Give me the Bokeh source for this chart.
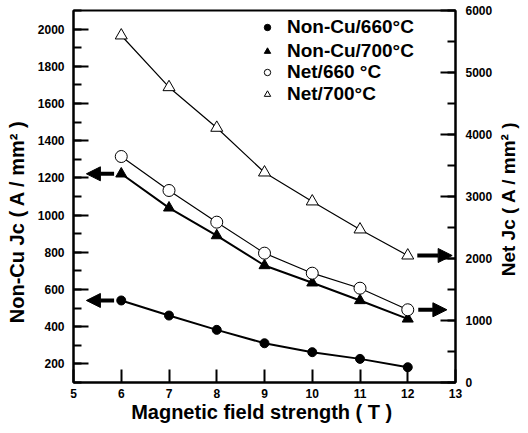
import math
from bokeh.plotting import figure
from bokeh.layouts import row
from bokeh.models import (Range1d, LinearAxis, SingleIntervalTicker, Legend, LegendItem,
                          Arrow, NormalHead, Label)
from bokeh.embed import file_html
from bokeh.resources import INLINE

# ---- data ----
field_T = [6, 7, 8, 9, 10, 11, 12]
noncu_660 = [541, 460, 383, 311, 263, 227, 182]
noncu_700 = [1222, 1039, 890, 729, 636, 541, 442]
net_660 = [3645, 3097, 2586, 2086, 1763, 1521, 1173]
net_700 = [5597, 4763, 4108, 3387, 2920, 2468, 2048]
labels = ["Non-Cu/660°C", "Non-Cu/700°C", "Net/660 °C", "Net/700°C"]
x_title = "Magnetic field  strength ( T )"
y_title = "Non-Cu Jc ( A / mm² )"
y2_title = "Net Jc ( A / mm² )"

FONT = "Liberation Sans"
NBSP = "\u00a0"

p = figure(width=496, height=425, output_backend="svg", toolbar_location=None,
           x_range=Range1d(5, 13), y_range=Range1d(100, 2100),
           min_border_left=73, min_border_right=41, min_border_top=10, min_border_bottom=43)
p.extra_y_ranges = {"right": Range1d(0, 6000)}
p.xgrid.visible = False
p.ygrid.visible = False
p.outline_line_color = "black"
p.outline_line_width = 2
p.background_fill_color = "white"
p.border_fill_color = "white"

# axes
xa = p.xaxis[0]
xa.ticker = SingleIntervalTicker(interval=1, num_minor_ticks=0)
xa.axis_label = x_title
ya = p.yaxis[0]
ya.ticker = SingleIntervalTicker(interval=200, num_minor_ticks=2)
ya.axis_label = y_title + NBSP * 9
ra = LinearAxis(y_range_name="right",
                ticker=SingleIntervalTicker(interval=1000, num_minor_ticks=2))
p.add_layout(ra, "right")

for ax in (xa, ya, ra):
    ax.axis_line_width = 2
    ax.axis_line_color = "black"
    ax.major_tick_line_width = 2
    ax.minor_tick_line_width = 2
    ax.major_tick_out = 0
    ax.minor_tick_out = 0
    ax.major_tick_in = 15
    ax.minor_tick_in = 8
    ax.major_label_text_font = FONT
    ax.major_label_text_font_style = "bold"
    ax.major_label_text_font_size = "12px"
    ax.major_label_text_color = "black"
    ax.axis_label_text_font = FONT
    ax.axis_label_text_font_style = "bold"
    ax.axis_label_text_font_size = "20px"
    ax.axis_label_text_color = "black"
xa.major_tick_in = 13
xa.major_label_standoff = 6
xa.axis_label_standoff = 0
ya.major_label_standoff = 9
ya.axis_label_standoff = 7
ra.major_label_standoff = 10

# series
p.line(field_T, noncu_660, line_color="black", line_width=2)
m1 = p.scatter(field_T, noncu_660, marker="circle", size=9, fill_color="black", line_color="black")
p.line(field_T, noncu_700, line_color="black", line_width=2)
m2 = p.scatter(field_T, noncu_700, marker="triangle", size=11, fill_color="black", line_color="black")
p.line(field_T, net_660, line_color="black", line_width=1.2, y_range_name="right")
m3 = p.scatter(field_T, net_660, marker="circle", size=12, fill_color="white", line_color="black",
               line_width=1, y_range_name="right")
p.line(field_T, net_700, line_color="black", line_width=1.2, y_range_name="right")
m4 = p.scatter(field_T, net_700, marker="triangle", size=12, fill_color="white", line_color="black",
               line_width=1, y_range_name="right")

# arrows indicating which axis each pair uses
def arrow(x0, x1, y, rng="default"):
    a = Arrow(end=NormalHead(size=14, fill_color="black", line_color="black"),
              x_start=x0, x_end=x1, y_start=y, y_end=y, line_width=4, line_color="black",
              y_range_name=rng)
    p.add_layout(a)

arrow(5.85, 5.27, noncu_700[0])
arrow(5.85, 5.27, noncu_660[0])
arrow(12.2, 12.93, net_700[-1], "right")
arrow(12.22, 12.82, net_660[-1], "right")

# legends
def make_legend(items, y, rowh, spacing):
    lg = Legend(items=items, location=(186, y), orientation="vertical",
                glyph_width=16, glyph_height=rowh, label_height=rowh, label_standoff=12,
                spacing=spacing, padding=0, margin=0,
                border_line_alpha=0, background_fill_alpha=0,
                label_text_font=FONT, label_text_font_style="bold",
                label_text_font_size="19px", label_text_color="black")
    p.add_layout(lg, "center")

make_legend([LegendItem(label=labels[0], renderers=[m1]),
             LegendItem(label=labels[1], renderers=[m2])], 320, 18, 2)
make_legend([LegendItem(label=labels[2], renderers=[m3]),
             LegendItem(label=labels[3], renderers=[m4])], 277, 16, 0)

# narrow strip on the right carrying the right-axis title (reads bottom to top)
p2 = figure(width=24, height=425, output_backend="svg", toolbar_location=None,
            x_range=Range1d(0, 24), y_range=Range1d(0, 425),
            x_axis_type=None, y_axis_type=None, min_border=0)
p2.grid.visible = False
p2.outline_line_color = None
p2.background_fill_color = "white"
p2.border_fill_color = "white"
p2.add_layout(Label(text=y2_title, x=12, y=210, angle=math.pi / 2,
                    text_align="center", text_baseline="middle",
                    text_font=FONT, text_font_style="bold", text_font_size="19px",
                    text_color="black"))

layout = row(p, p2)
open("out.html", "w").write(file_html(layout, INLINE))
